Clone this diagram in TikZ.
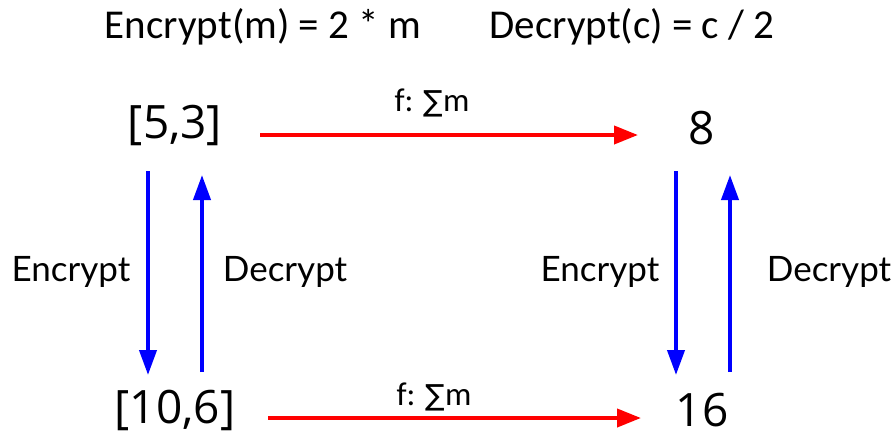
\documentclass[tikz,border=0pt]{standalone}
\usepackage{fontspec}
\setmainfont{Carlito}
\newfontfamily\labelfont{Lato}
\newfontfamily\numfont{Open Sans}
\newfontfamily\symfont{DejaVu Sans}
\usetikzlibrary{arrows.meta}
\tikzset{
  formula/.style={font=\fontsize{41}{48}\selectfont, inner sep=0pt, anchor=center},
  value/.style={font=\numfont\fontsize{46}{54}\selectfont, inner sep=0pt, anchor=center},
  side/.style={font=\labelfont\fontsize{35}{42}\selectfont, inner sep=0pt, anchor=center},
  fname/.style={font=\fontsize{33}{40}\selectfont, inner sep=0pt, anchor=center},
  mapto/.style={draw=red, line width=4pt, -{Triangle[length=24pt,width=18pt]}},
  crypt/.style={draw=blue, line width=4pt, -{Triangle[length=25pt,width=17pt]}}
}
\begin{document}
\begin{tikzpicture}[x=1pt,y=-1pt]
  \useasboundingbox (0,0) rectangle (895,432);

  % scheme definitions
  \node[formula] (enc) at (263,27) {Encrypt(m) = 2 * m};
  \node[formula] (dec) at (632,27) {Decrypt(c) = c / 2};

  % plaintext and ciphertext values
  \node[value] (p1) at (175,125) {[5,3]};
  \node[value] (p2) at (702,128) {8};
  \node[value] (c1) at (175,410) {[10,6]};
  \node[value] (c2) at (702,410) {16};

  % function applied to plaintext and ciphertext
  \coordinate (ta) at (260,135);
  \coordinate (tb) at (638,135);
  \coordinate (ba) at (268,418);
  \coordinate (bb) at (641,418);
  \draw[mapto] (ta) -- (tb);
  \draw[mapto] (ba) -- (bb);
  \node[fname] (ft) at (432,103) {f: {\symfont\fontsize{29}{34}\selectfont ∑}m};
  \node[fname] (fb) at (434,397) {f: {\symfont\fontsize{29}{34}\selectfont ∑}m};

  % left column of encryption / decryption
  \coordinate (le1) at (148,171);
  \coordinate (le2) at (148,375);
  \coordinate (ld1) at (202,372);
  \coordinate (ld2) at (202,175);
  \draw[crypt] (le1) -- (le2);
  \draw[crypt] (ld1) -- (ld2);
  \node[side] (lenc) at (71,272) {Encrypt};
  \node[side] (ldec) at (285,272) {Decrypt};

  % right column of encryption / decryption
  \coordinate (re1) at (676,171);
  \coordinate (re2) at (676,375);
  \coordinate (rd1) at (730,372);
  \coordinate (rd2) at (730,175);
  \draw[crypt] (re1) -- (re2);
  \draw[crypt] (rd1) -- (rd2);
  \node[side] (renc) at (600,272) {Encrypt};
  \node[side] (rdec) at (829,272) {Decrypt};
\end{tikzpicture}
\end{document}
